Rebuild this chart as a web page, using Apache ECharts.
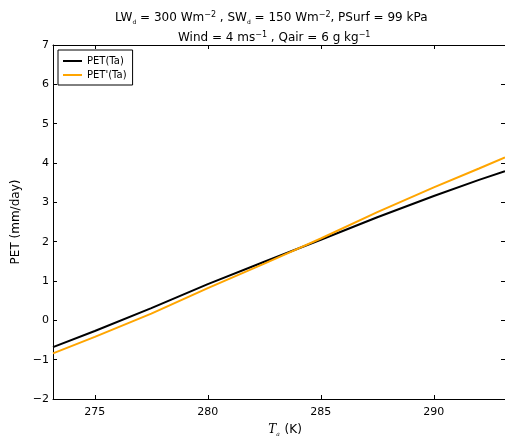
<!DOCTYPE html>
<html>
<head>
<meta charset="utf-8">
<script src="https://cdn.jsdelivr.net/npm/echarts@6/dist/echarts.min.js"></script>
<style>
  html, body { margin: 0; padding: 0; background: #fff; }
  #chart { width: 505px; height: 437px; }
</style>
</head>
<body>
<div id="chart"></div>
<script>
// Air temperature (K) and potential evapotranspiration (mm/day)
const temperatures   = [273.15, 275, 277.5, 280, 282.5, 285, 287.5, 290, 292, 293.15];
const petValues      = [-0.68, -0.27, 0.31, 0.92, 1.49, 2.05, 2.62, 3.16, 3.57, 3.79];
const petPrimeValues = [-0.84, -0.42, 0.17, 0.82, 1.44, 2.08, 2.75, 3.38, 3.86, 4.14];
const xTicks = [275, 280, 285, 290];

const FONT = 'DejaVu Sans';
const minus = v => String(v).replace('-', '\u2212');

// rich-text styles for sub/superscripts
const richTitle = {
  t: { fontSize: 12, color: '#000', fontFamily: FONT, lineHeight: 14 },
  s: { fontSize: 6, color: '#000', fontFamily: FONT, lineHeight: 6, verticalAlign: 'bottom' },
  p: { fontSize: 8, color: '#000', fontFamily: FONT, lineHeight: 8, verticalAlign: 'top' }
};

const chart = echarts.init(document.getElementById('chart'));

const tickStyle = { inside: true, length: 4, lineStyle: { color: '#000' } };
const lineStyleAxis = { onZero: false, lineStyle: { color: '#000', width: 1 } };

chart.setOption({
  animation: false,
  backgroundColor: '#fff',
  textStyle: { fontFamily: FONT },
  title: [
    {
      left: 115, top: 11, padding: 0,
      text: '{t|LW}{s|d}{t| = 300 Wm}{p|\u22122}{t| , SW}{s|d}{t| = 150 Wm}{p|\u22122}{t|, PSurf = 99 kPa}',
      textStyle: { fontWeight: 'normal', rich: richTitle }
    },
    {
      left: 178, top: 31, padding: 0,
      text: '{t|Wind = 4 ms}{p|\u22121}{t| , Qair = 6 g kg}{p|\u22121}',
      textStyle: { fontWeight: 'normal', rich: richTitle }
    }
  ],
  legend: {
    left: 58,
    top: 50,
    orient: 'vertical',
    itemGap: 4,
    itemWidth: 19,
    itemHeight: 2,
    icon: 'rect',
    padding: [6, 6, 5, 5],
    borderColor: '#000',
    borderWidth: 1,
    borderRadius: 0,
    backgroundColor: '#fff',
    textStyle: { fontFamily: FONT, fontSize: 10, color: '#000' },
    data: ['PET(Ta)', "PET'(Ta)"]
  },
  grid: { left: 53, right: 0, top: 45, bottom: 38, outerBoundsMode: 'none', containLabel: false },
  xAxis: [
    {
      type: 'value', min: 273.15, max: 293.15, position: 'bottom',
      splitLine: { show: false },
      axisLine: lineStyleAxis,
      axisTick: Object.assign({ customValues: xTicks }, tickStyle),
      axisLabel: { customValues: xTicks, color: '#000', fontSize: 11, fontFamily: FONT, margin: 8 },
      name: '{i|T}{s|a}{t| (K)}',
      nameLocation: 'middle',
      nameGap: 24,
      nameTextStyle: {
        padding: [0, 0, 0, 12],
        rich: {
          i: { fontFamily: 'DejaVu Serif', fontStyle: 'italic', fontSize: 12, color: '#000', lineHeight: 14 },
          s: { fontFamily: 'DejaVu Serif', fontStyle: 'italic', fontSize: 6, color: '#000', lineHeight: 6, verticalAlign: 'bottom', padding: [0, 1, 0, 0] },
          t: { fontFamily: FONT, fontSize: 12, color: '#000', lineHeight: 14 }
        }
      }
    },
    {
      type: 'value', min: 273.15, max: 293.15, position: 'top',
      splitLine: { show: false },
      axisLine: lineStyleAxis,
      axisTick: Object.assign({ customValues: xTicks }, tickStyle),
      axisLabel: { show: false }
    }
  ],
  yAxis: [
    {
      type: 'value', min: -2, max: 7, interval: 1, position: 'left',
      splitLine: { show: false },
      axisLine: lineStyleAxis,
      axisTick: tickStyle,
      axisLabel: { color: '#000', fontSize: 11, fontFamily: FONT, margin: 4, formatter: minus },
      name: 'PET (mm/day)',
      nameLocation: 'middle',
      nameGap: 21,
      nameRotate: 90,
      nameTextStyle: { fontFamily: FONT, fontSize: 12, color: '#000' }
    },
    {
      type: 'value', min: -2, max: 7, interval: 1, position: 'right',
      splitLine: { show: false },
      axisLine: lineStyleAxis,
      axisTick: tickStyle,
      axisLabel: { show: false }
    }
  ],
  series: [
    {
      name: 'PET(Ta)',
      type: 'line',
      data: temperatures.map((t, i) => [t, petValues[i]]),
      showSymbol: false,
      lineStyle: { color: '#000', width: 2 },
      itemStyle: { color: '#000' }
    },
    {
      name: "PET'(Ta)",
      type: 'line',
      data: temperatures.map((t, i) => [t, petPrimeValues[i]]),
      showSymbol: false,
      lineStyle: { color: '#ffa500', width: 2 },
      itemStyle: { color: '#ffa500' }
    }
  ]
});
</script>
</body>
</html>
